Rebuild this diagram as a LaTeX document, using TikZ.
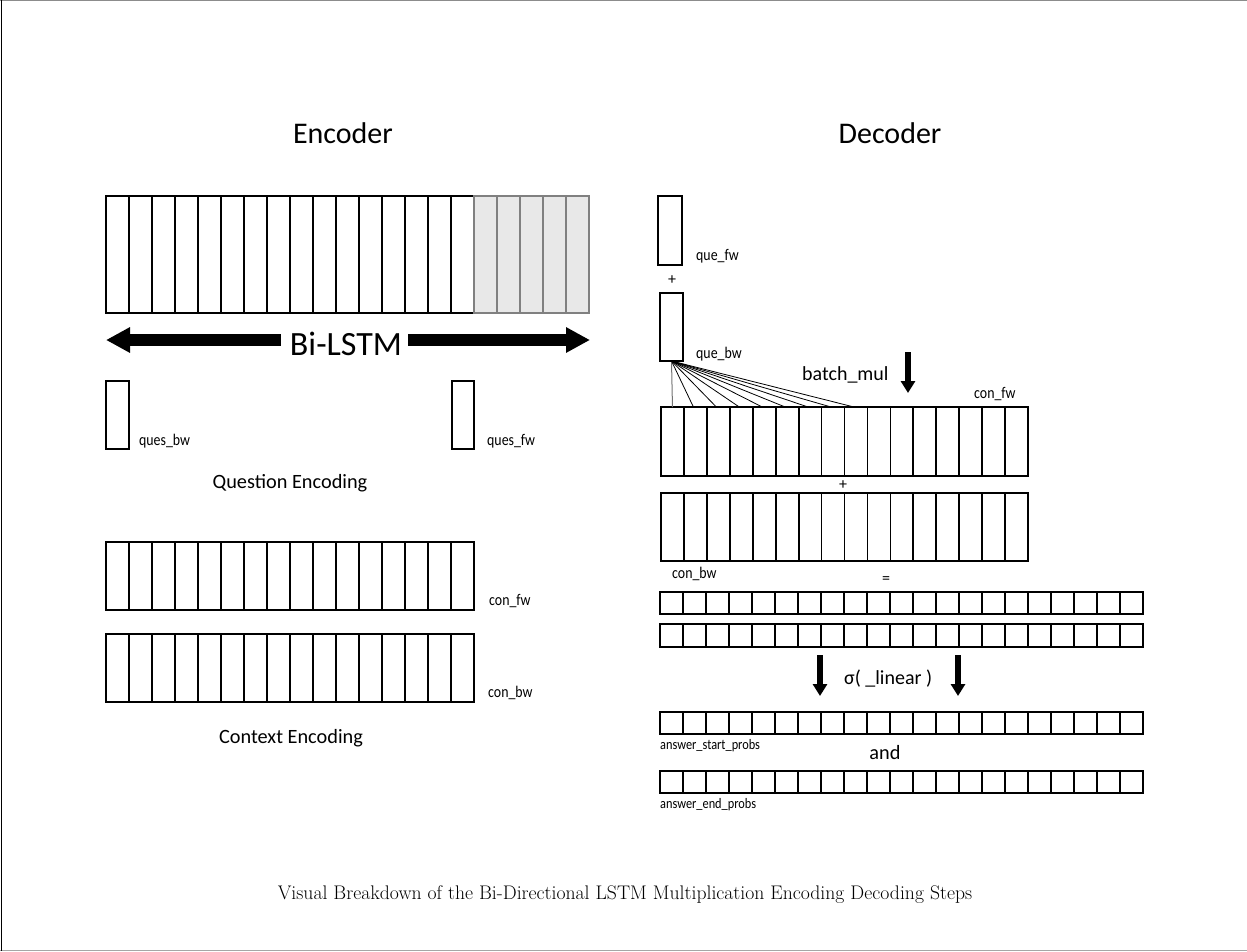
\documentclass[tikz,border=0pt]{standalone}
\usepackage{fontspec}
\usepackage{graphicx}
\newfontfamily\calfont{Carlito}
\newcommand{\narrowtxt}[1]{\scalebox{0.85}[1]{#1}}
\usetikzlibrary{arrows.meta}
\begin{document}
\begin{tikzpicture}[x=1pt,y=-1pt,
  cell/.style={draw=black, line width=1.8pt, inner sep=0pt, outer sep=0pt, fill=white},
  gcell/.style={cell, draw=black!50, fill=black!9},
  small/.style={font=\calfont\fontsize{16.3}{16.3}\selectfont, inner sep=0pt, anchor=base west},
  tiny/.style={font=\calfont\fontsize{14.5}{14.5}\selectfont, inner sep=0pt, anchor=base west},
  mid/.style={font=\calfont\fontsize{20.3}{20.3}\selectfont, inner sep=0pt, anchor=base},
  midl/.style={font=\calfont\fontsize{20}{20}\selectfont, inner sep=0pt, anchor=base west},
  title/.style={font=\calfont\fontsize{30}{30}\selectfont, inner sep=0pt, anchor=base},
  fatarrow/.style={line width=12.5pt, -{Triangle[length=24pt,width=24pt]}},
  downarrow/.style={line width=6.5pt, -{Triangle[length=12pt,width=14pt]}},
  fan/.style={line width=0.8pt}
]
\useasboundingbox (0,0) rectangle (1247,951);
% frame
\draw[black!45, line width=1.2pt] (0,0.6) -- (1247,0.6);
\draw[black!35, line width=1.2pt] (0,950.2) -- (1247,950.2);
\draw[black, line width=1.6pt] (1.6,0) -- (1.6,951);

% titles
\node[title] (enc) at (343,143) {Encoder};
\node[title] (dec) at (890,143) {Decoder};

% ---------- Encoder ----------
\foreach \i in {1,...,16}
  \node[cell, minimum width=23pt, minimum height=117pt] (E\i) at ({106+23*(\i-0.5)},254.5) {};
\foreach \i in {17,...,21}
  \node[gcell, minimum width=23pt, minimum height=117pt] (E\i) at ({106+23*(\i-0.5)},254.5) {};

\node[font=\calfont\fontsize{34}{34}\selectfont, inner sep=0pt, anchor=base] (bilstm) at (346,355) {Bi-LSTM};
\coordinate (bl) at (106,340);
\coordinate (br) at (590,340);
\draw[fatarrow] ([xshift=-9pt]bilstm.west |- bl) -- (bl);
\draw[fatarrow] ([xshift=6pt]bilstm.east |- br) -- (br);

\node[cell, minimum width=23pt, minimum height=68pt] (qbwE) at (117.5,415) {};
\node[cell, minimum width=22pt, minimum height=68pt] (qfwE) at (463,415) {};
\node[small] (qbwEl) at (139,445) {\narrowtxt{ques\_bw}};
\node[small] (qfwEl) at (487,445) {\narrowtxt{ques\_fw}};
\node[mid] (qenc) at (290,488) {Question Encoding};

\foreach \i in {1,...,16}
  \node[cell, minimum width=23pt, minimum height=68pt] (CF\i) at ({106+23*(\i-0.5)},576) {};
\foreach \i in {1,...,16}
  \node[cell, minimum width=23pt, minimum height=68pt] (CB\i) at ({106+23*(\i-0.5)},668) {};
\node[small] (cfwEl) at (489,605) {\narrowtxt{con\_fw}};
\node[small] (cbwEl) at (488,697) {\narrowtxt{con\_bw}};
\node[mid] (cenc) at (291,743) {Context Encoding};

% ---------- Decoder ----------
\node[cell, minimum width=24pt, minimum height=69pt] (qfw) at (670,230.5) {};
\node[small] (qfwl) at (696,260) {\narrowtxt{que\_fw}};
\node[font=\calfont\fontsize{16}{16}\selectfont, inner sep=0pt] (plus1) at (672,280) {+};
\node[cell, minimum width=23pt, minimum height=68pt] (qbw) at (671.5,327) {};
\node[small] (qbwl) at (696,358) {\narrowtxt{que\_bw}};

\node[midl] (bm) at (802,380) {batch\_mul};
\coordinate (bmA) at (908,352);
\coordinate (bmB) at (908,393);
\draw[downarrow] (bmA) -- (bmB);
\node[small] (dcfwl) at (974,398) {\narrowtxt{con\_fw}};

\foreach \i in {1,...,16}
  \node[cell, minimum width=22.94pt, minimum height=69pt] (F\i) at ({661+22.94*(\i-0.5)},441.5) {};
\foreach \i in {1,...,16}
  \node[cell, minimum width=22.94pt, minimum height=68pt] (B\i) at ({661+22.94*(\i-0.5)},527) {};
\node[font=\calfont\fontsize{16}{16}\selectfont, inner sep=0pt] (plus2) at (843,485) {+};
\node[small] (dcbwl) at (672,578) {\narrowtxt{con\_bw}};
\node[font=\calfont\fontsize{16}{16}\selectfont, inner sep=0pt] (eq) at (886,580) {=};

% fan from que_bw to con_fw cells
\draw[fan, black!55, line width=1pt] (qbw.south) -- (F1.north);
\foreach \i in {2,...,9}
  \draw[fan] (qbw.south) -- ([xshift=-2pt]F\i.north);

\foreach \i in {1,...,21}
  \node[cell, minimum width=23pt, minimum height=22.5pt] (R\i) at ({660+23*(\i-0.5)},603) {};
\foreach \i in {1,...,21}
  \node[cell, minimum width=23pt, minimum height=22.5pt] (S\i) at ({660+23*(\i-0.5)},635.5) {};

\coordinate (s1A) at (820,655);
\coordinate (s1B) at (820,696);
\coordinate (s2A) at (958,655);
\coordinate (s2B) at (958,696);
\draw[downarrow] (s1A) -- (s1B);
\draw[downarrow] (s2A) -- (s2B);
\node[midl] (sig) at (844,684) {σ( \_linear )};

\foreach \i in {1,...,21}
  \node[cell, minimum width=23pt, minimum height=22.5pt] (P\i) at ({660+23*(\i-0.5)},723) {};
\node[tiny] (asp) at (660,749) {\narrowtxt{answer\_start\_probs}};
\node[mid] (and) at (885,759) {and};
\foreach \i in {1,...,21}
  \node[cell, minimum width=23pt, minimum height=22.5pt] (Q\i) at ({660+23*(\i-0.5)},782) {};
\node[tiny] (aep) at (660,808) {\narrowtxt{answer\_end\_probs}};

% caption
\node[font=\fontsize{19.7}{19.7}\selectfont, inner sep=0pt, anchor=base] (cap) at (625,899)
  {Visual Breakdown of the Bi-Directional LSTM Multiplication Encoding Decoding Steps};
\end{tikzpicture}
\end{document}
